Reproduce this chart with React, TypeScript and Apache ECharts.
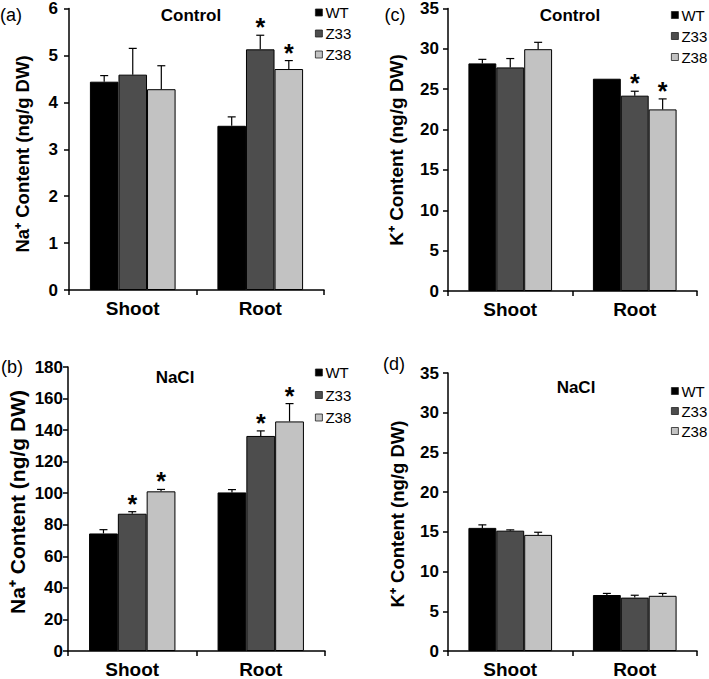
import React, { useEffect, useRef } from 'react';
import * as echarts from 'echarts';

// ---------- data ----------
const categories = ['Shoot', 'Root'];
const genotypes = ['WT', 'Z33', 'Z38'];

// (a) Na+ content, Control  — rows: WT, Z33, Z38 ; columns: Shoot, Root
const naControlMeans = [[4.44, 3.5], [4.59, 5.13], [4.28, 4.71]];
const naControlErrors = [[0.13, 0.19], [0.56, 0.3], [0.5, 0.18]];
const naControlStars = [[0, 0], [0, 1], [0, 1]];

// (b) Na+ content, NaCl
const naSaltMeans = [[74.5, 100.5], [87, 136.3], [101.2, 145.5]];
const naSaltErrors = [[2.4, 1.8], [1.3, 3.2], [1.2, 11.3]];
const naSaltStars = [[0, 0], [1, 1], [1, 1]];

// (c) K+ content, Control
const kControlMeans = [[28.2, 26.3], [27.7, 24.2], [29.96, 22.5]];
const kControlErrors = [[0.5, 0], [1.1, 0.55], [0.85, 1.3]];
const kControlStars = [[0, 0], [0, 1], [0, 1]];

// (d) K+ content, NaCl
const kSaltMeans = [[15.5, 7.05], [15.15, 6.72], [14.62, 6.95]];
const kSaltErrors = [[0.38, 0.2], [0.1, 0.3], [0.33, 0.3]];
const kSaltStars = [[0, 0], [0, 0], [0, 0]];

const naControlTicks = { max: 6, interval: 1 };
const naSaltTicks = { max: 180, interval: 20 };
const kControlTicks = { max: 35, interval: 5 };
const kSaltTicks = { max: 35, interval: 5 };

const panelLetters = ['(a)', '(b)', '(c)', '(d)'];
const panelTitles = ['Control', 'NaCl', 'Control', 'NaCl'];
const naAxisName = 'Na\u207A Content (ng/g DW)';
const kAxisName = 'K\u207A Content (ng/g DW)';

// ---------- styling / layout ----------
const FONT = '"Liberation Sans", Arial, Helvetica, sans-serif';
const COLORS = ['#000000', '#4d4d4d', '#c2c2c2'];
const BAR_FRAC = 0.224;

const panels = [
  {
    means: naControlMeans, errors: naControlErrors, stars: naControlStars, ticks: naControlTicks,
    grid: { left: 69, top: 7, width: 255, height: 283 }, labelMargin: 11,
    legend: { left: 315, top: 5, itemGap: 6 },
    name: naAxisName, nameX: 22, nameY: 154, nameSize: 18.5,
    letter: [11, 15], title: [191, 15],
  },
  {
    means: naSaltMeans, errors: naSaltErrors, stars: naSaltStars, ticks: naSaltTicks,
    grid: { left: 68, top: 367, width: 257, height: 286 }, labelMargin: 5,
    legend: { left: 315, top: 365, itemGap: 7.5 },
    name: naAxisName, nameX: 17, nameY: 502, nameSize: 21,
    letter: [12, 367], title: [175, 377],
  },
  {
    means: kControlMeans, errors: kControlErrors, stars: kControlStars, ticks: kControlTicks,
    grid: { left: 448, top: 8, width: 249, height: 283 }, labelMargin: 9,
    legend: { left: 671, top: 7.5, itemGap: 6 },
    name: kAxisName, nameX: 396, nameY: 150, nameSize: 19,
    letter: [395, 15], title: [570, 15],
  },
  {
    means: kSaltMeans, errors: kSaltErrors, stars: kSaltStars, ticks: kSaltTicks,
    grid: { left: 448, top: 373, width: 249, height: 278 }, labelMargin: 9,
    legend: { left: 671, top: 383.5, itemGap: 5 },
    name: kAxisName, nameX: 397, nameY: 514, nameSize: 18.5,
    letter: [394, 364], title: [576, 387],
  },
];

function makeErrorRenderer(g: number) {
  return (params: any, api: any) => {
    const ci = api.value(0);
    const m = api.value(1);
    const e = api.value(2);
    const s = api.value(3);
    const band = api.size([1, 0])[0];
    const bw = band * BAR_FRAC;
    const base = api.coord([ci, m]);
    const top = api.coord([ci, m + e]);
    const x = base[0] + (g - 1) * bw;
    const children: any[] = [];
    if (e > 0) {
      children.push({
        type: 'line',
        shape: { x1: x, y1: base[1], x2: x, y2: top[1] },
        style: { stroke: '#000', lineWidth: 1.2 },
      });
      children.push({
        type: 'line',
        shape: { x1: x - 4, y1: top[1], x2: x + 4, y2: top[1] },
        style: { stroke: '#000', lineWidth: 1.2 },
      });
    }
    if (s) {
      children.push({
        type: 'text',
        x,
        y: top[1] - 8,
        style: {
          text: '*',
          fontSize: 25,
          fontWeight: 'bold',
          fontFamily: FONT,
          fill: '#000',
          align: 'center',
          verticalAlign: 'middle',
        },
      });
    }
    return { type: 'group', children };
  };
}

function buildOption() {
  const axisLineStyle = { color: '#000', width: 1.5 };
  const grid = panels.map((p) => ({ ...p.grid, containLabel: false }));
  const xAxis = panels.map((p, i) => ({
    type: 'category',
    gridIndex: i,
    data: categories,
    axisLine: { show: true, lineStyle: axisLineStyle },
    axisTick: { show: true, length: 5, lineStyle: axisLineStyle },
    axisLabel: { color: '#000', fontSize: 19, fontWeight: 'bold', fontFamily: FONT, margin: 9 },
    splitLine: { show: false },
  }));
  const yAxis = panels.map((p, i) => ({
    type: 'value',
    gridIndex: i,
    min: 0,
    max: p.ticks.max,
    interval: p.ticks.interval,
    axisLine: { show: true, lineStyle: axisLineStyle },
    axisTick: { show: true, length: 5, lineStyle: axisLineStyle },
    axisLabel: { color: '#000', fontSize: 17, fontWeight: 'bold', fontFamily: FONT, margin: p.labelMargin },
    splitLine: { show: false },
  }));
  const series: any[] = [];
  panels.forEach((p, i) => {
    genotypes.forEach((gName, g) => {
      series.push({
        type: 'bar',
        name: gName,
        xAxisIndex: i,
        yAxisIndex: i,
        data: p.means[g],
        barWidth: BAR_FRAC * 100 + '%',
        barGap: '0%',
        itemStyle: { color: COLORS[g], borderColor: '#000', borderWidth: 1 },
        z: 2,
      });
    });
    genotypes.forEach((gName, g) => {
      series.push({
        type: 'custom',
        name: gName + ' error',
        xAxisIndex: i,
        yAxisIndex: i,
        data: categories.map((c, ci) => [ci, p.means[g][ci], p.errors[g][ci], p.stars[g][ci]]),
        encode: { x: 0, y: 1 },
        renderItem: makeErrorRenderer(g),
        silent: true,
        clip: false,
        z: 3,
      });
    });
  });
  const legend = panels.map((p) => ({
    data: genotypes,
    orient: 'vertical',
    left: p.legend.left,
    top: p.legend.top,
    itemGap: p.legend.itemGap,
    padding: 0,
    itemWidth: 7,
    itemHeight: 7,
    icon: 'rect',
    selectedMode: false,
    itemStyle: { borderColor: '#222', borderWidth: 0.8 },
    textStyle: { fontSize: 15, color: '#000', fontFamily: FONT, padding: [0, 0, 0, -2] },
  }));
  const graphic: any[] = [];
  panels.forEach((p, i) => {
    graphic.push({
      type: 'text',
      x: p.nameX,
      y: p.nameY,
      rotation: Math.PI / 2,
      style: {
        text: p.name,
        fontSize: p.nameSize,
        fontWeight: 'bold',
        fontFamily: FONT,
        fill: '#000',
        align: 'center',
        verticalAlign: 'middle',
      },
    });
    graphic.push({
      type: 'text',
      x: p.title[0],
      y: p.title[1],
      style: {
        text: panelTitles[i],
        fontSize: 17,
        fontWeight: 'bold',
        fontFamily: FONT,
        fill: '#000',
        align: 'center',
        verticalAlign: 'middle',
      },
    });
    graphic.push({
      type: 'text',
      x: p.letter[0],
      y: p.letter[1],
      style: {
        text: panelLetters[i],
        fontSize: 18,
        fontFamily: FONT,
        fill: '#000',
        align: 'center',
        verticalAlign: 'middle',
      },
    });
  });
  return {
    animation: false,
    backgroundColor: '#ffffff',
    grid,
    xAxis,
    yAxis,
    legend,
    series,
    graphic,
  };
}

export default function App() {
  const ref = useRef<HTMLDivElement>(null);
  useEffect(() => {
    if (!ref.current) return;
    const chart = echarts.init(ref.current, null, { renderer: 'svg' });
    chart.setOption(buildOption() as any);
    return () => {
      chart.dispose();
    };
  }, []);
  return (
    <div
      ref={ref}
      style={{ position: 'absolute', left: 0, top: 0, width: 709, height: 679, background: '#fff' }}
    />
  );
}
